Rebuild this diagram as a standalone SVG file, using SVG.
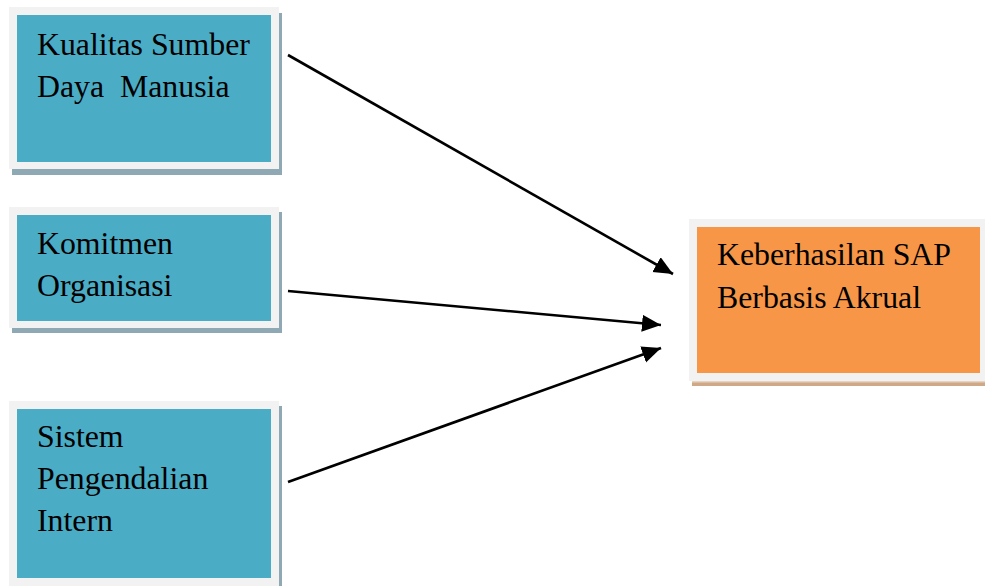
<svg xmlns="http://www.w3.org/2000/svg" width="985" height="586" viewBox="0 0 985 586">
  <defs>
    <style>
      .frame { fill: #F2F2F2; }
      .shadow-b { fill: #8FA9B4; }
      .shadow-o { fill: #CFA888; }
      .blue { fill: #4BACC6; }
      .orange { fill: #F79646; }
      .label { font-family: "Liberation Serif", "Times New Roman", serif; font-size: 31.8px; fill: #000; white-space: pre; }
      .conn { stroke: #000; stroke-width: 2.6; fill: none; marker-end: url(#arrow); }
    </style>
    <marker id="arrow" markerUnits="userSpaceOnUse" markerWidth="22" markerHeight="20" refX="19" refY="8.5" orient="auto">
      <path d="M0,0 L19,8.5 L0,17 Z" fill="#000"/>
    </marker>
  </defs>
  <rect width="985" height="586" fill="#FFFFFF"/>

  <g id="node-sdm">
    <rect class="shadow-b" x="12" y="13" width="270" height="162"/>
    <rect class="frame" x="9" y="7" width="270" height="162"/>
    <rect class="blue" x="17" y="15" width="254" height="147"/>
    <text class="label" x="37" y="55">Kualitas Sumber</text>
    <text class="label" x="37" y="97" xml:space="preserve">Daya  Manusia</text>
  </g>

  <g id="node-komitmen">
    <rect class="shadow-b" x="12" y="212" width="270" height="121"/>
    <rect class="frame" x="9" y="207" width="270" height="121"/>
    <rect class="blue" x="17" y="215" width="254" height="106"/>
    <text class="label" x="37" y="254">Komitmen</text>
    <text class="label" x="37" y="296">Organisasi</text>
  </g>

  <g id="node-spi">
    <rect class="shadow-b" x="12" y="406" width="270" height="190"/>
    <rect class="frame" x="9" y="401" width="270" height="190"/>
    <rect class="blue" x="17" y="409" width="254" height="169"/>
    <text class="label" x="37" y="447">Sistem</text>
    <text class="label" x="37" y="489">Pengendalian</text>
    <text class="label" x="37" y="531">Intern</text>
  </g>

  <g id="node-sap">
    <rect class="shadow-o" x="692" y="224" width="300" height="162"/>
    <rect fill="#E8D2C0" x="692" y="381" width="300" height="1.5"/>
    <rect class="frame" x="689" y="219" width="300" height="162"/>
    <rect class="orange" x="697" y="227" width="283" height="146"/>
    <text class="label" x="717" y="265">Keberhasilan SAP</text>
    <text class="label" x="717" y="308">Berbasis Akrual</text>
  </g>

  <g id="connectors">
    <line class="conn" x1="288" y1="55" x2="673" y2="274"/>
    <line class="conn" x1="288" y1="291" x2="661" y2="325"/>
    <line class="conn" x1="288" y1="482" x2="661" y2="348"/>
  </g>
</svg>
